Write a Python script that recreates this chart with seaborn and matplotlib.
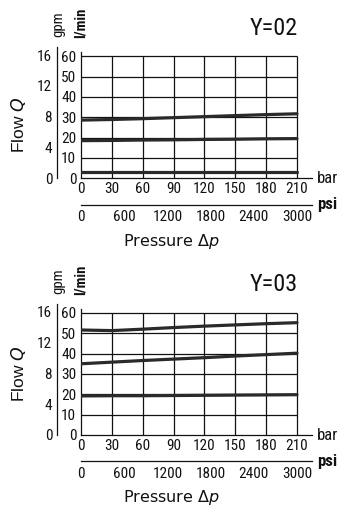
import matplotlib
matplotlib.use("Agg")
import matplotlib.pyplot as plt
import seaborn as sns
import numpy as np
import pandas as pd

# ---------------- data ----------------
pressure_bar = [0, 30, 60, 90, 120, 150, 180, 210]
y02_high = [28.6, 28.9, 29.3, 29.8, 30.3, 30.8, 31.3, 31.7]
y02_mid = [18.5, 18.6, 18.8, 18.9, 19.1, 19.2, 19.4, 19.5]
y02_low = [3.0, 3.0, 3.0, 3.0, 3.0, 3.0, 3.0, 3.0]
y03_high = [51.6, 51.3, 52.0, 52.8, 53.5, 54.1, 54.7, 55.2]
y03_mid = [35.0, 35.8, 36.6, 37.3, 38.0, 38.8, 39.5, 40.2]
y03_low = [19.2, 19.3, 19.3, 19.4, 19.5, 19.6, 19.7, 19.8]

bar_ticks = [0, 30, 60, 90, 120, 150, 180, 210]
psi_ticks = [0, 600, 1200, 1800, 2400, 3000]
lmin_ticks = [0, 10, 20, 30, 40, 50, 60]
gpm_ticks = [0, 4, 8, 12, 16]
panels = [
    {"title": "Y=02", "curves": [y02_high, y02_mid, y02_low]},
    {"title": "Y=03", "curves": [y03_high, y03_mid, y03_low]},
]

sns.set_style("white")
plt.rcParams["font.family"] = ["Roboto Condensed", "Liberation Sans", "DejaVu Sans"]
plt.rcParams["mathtext.fontset"] = "dejavusans"

W, H = 357, 516
fig = plt.figure(figsize=(W / 100, H / 100), dpi=100)
fig.patch.set_facecolor("white")

def fx(px):
    return px / W

def fy(py):
    return 1 - py / H

X0 = 81.0          # pixel x of 0 bar
PX_PER_BAR = 216.0 / 210.0
XMAX = 225.0
PX_PER_L = 2.035
YMAX = 65.0
GPM = 3.785

tick_fs = 11
ink = "#111111"
line_c = "#2a2a2a"

zero_y = [178.3, 435.0]

for i, p in enumerate(panels):
    y0 = zero_y[i]
    # main axes
    ax = fig.add_axes([fx(X0), fy(y0), (XMAX * PX_PER_BAR) / W, (YMAX * PX_PER_L) / H])
    ax.set_xlim(0, XMAX)
    ax.set_ylim(0, YMAX)
    ax.set_facecolor("none")
    for s in ["top", "right"]:
        ax.spines[s].set_visible(False)
    ax.spines["left"].set_bounds(0, 62)
    for s in ["left", "bottom"]:
        ax.spines[s].set_color(ink)
        ax.spines[s].set_linewidth(0.9)
    # grid
    ax.hlines(lmin_ticks[1:], 0, bar_ticks[-1], color=ink, lw=0.9, zorder=1)
    ax.vlines(bar_ticks[1:], 0, lmin_ticks[-1], color=ink, lw=0.9, zorder=1)
    # curves
    for c in p["curves"]:
        sns.lineplot(x=pressure_bar, y=c, ax=ax, color=line_c, lw=2.3, zorder=3)
    ax.set_xticks(bar_ticks)
    ax.set_yticks(lmin_ticks)
    ax.tick_params(axis="both", direction="inout", length=4, width=0.8,
                   color=ink, labelsize=tick_fs, labelcolor=ink, pad=1.5)
    ax.tick_params(axis="x", pad=1)
    ax.set_xlabel("")
    ax.set_ylabel("")

    # gpm axis
    ag = fig.add_axes([fx(57), fy(y0), 0.0001, (YMAX * PX_PER_L) / H])
    ag.set_ylim(0, YMAX / GPM)
    ag.set_xticks([])
    ag.set_facecolor("none")
    for s in ["top", "right", "bottom"]:
        ag.spines[s].set_visible(False)
    ag.spines["left"].set_bounds(0, 17)
    ag.spines["left"].set_color(ink)
    ag.spines["left"].set_linewidth(0.9)
    ag.set_yticks(gpm_ticks)
    ag.tick_params(axis="y", direction="inout", length=4, width=0.8,
                   color=ink, labelsize=tick_fs, labelcolor=ink, pad=1.5)

    # psi axis
    psi_y = y0 + 26.3
    ap = fig.add_axes([fx(X0), fy(psi_y), (XMAX * PX_PER_BAR) / W, 0.0001])
    ap.set_xlim(0, XMAX * 3000 / 210)
    ap.set_yticks([])
    ap.set_facecolor("none")
    for s in ["top", "right", "left"]:
        ap.spines[s].set_visible(False)
    ap.spines["bottom"].set_color(ink)
    ap.spines["bottom"].set_linewidth(0.9)
    ap.set_xticks(psi_ticks)
    ap.tick_params(axis="x", direction="inout", length=4, width=0.8,
                   color=ink, labelsize=tick_fs, labelcolor=ink, pad=2)

    # unit labels
    fig.text(fx(317), fy(y0), "bar", fontsize=12, color=ink, ha="left", va="center")
    fig.text(fx(317), fy(psi_y), "psi", fontsize=12, color=ink, ha="left", va="center",
             fontweight="bold")
    top60 = y0 - 60 * PX_PER_L
    fig.text(fx(58), fy(top60 - 32), "gpm", fontsize=10.5, color=ink, rotation=90,
             ha="center", va="center")
    fig.text(fx(81), fy(top60 - 33), "l/min", fontsize=10.5, color=ink, rotation=90,
             ha="center", va="center", fontweight="bold")
    # title
    fig.text(fx(298), fy(top60 - 28), p["title"], fontsize=17.5, color=ink,
             ha="right", va="center")
    # axis titles
    fig.text(fx(171), fy(y0 + 62.8), r"Pressure $\mathit{\Delta p}$", fontsize=11.5,
             color=ink, ha="center", va="center", family=["DejaVu Sans"])
    fig.text(fx(19), fy(y0 - 54 - 7 * i), r"Flow $\mathit{Q}$", fontsize=12.5,
             color=ink, rotation=90, ha="center", va="center",
             family=["Liberation Sans", "DejaVu Sans"])

fig.savefig("out.png", dpi=100, facecolor="white")
